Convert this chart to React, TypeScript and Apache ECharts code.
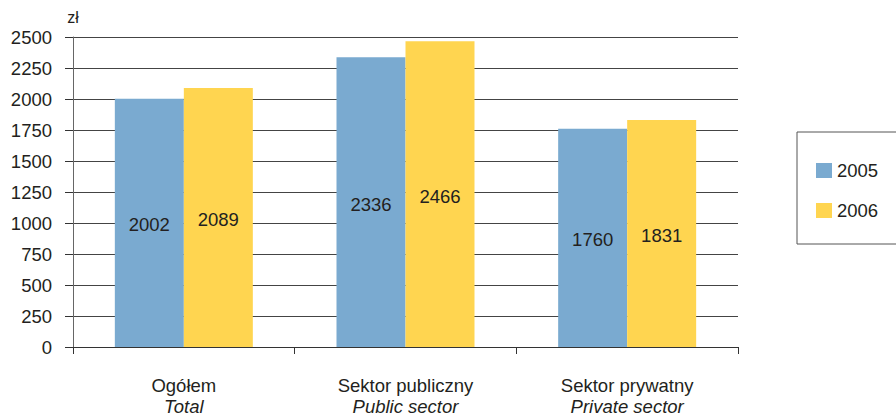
import React, { useEffect, useRef } from "react";
import * as echarts from "echarts";

const categories = ["Ogółem", "Sektor publiczny", "Sektor prywatny"];
const categoriesEn = ["Total", "Public sector", "Private sector"];
const series2005 = [2002, 2336, 1760];
const series2006 = [2089, 2466, 1831];
const seriesNames = ["2005", "2006"];
const yTicks = { min: 0, max: 2500, interval: 250 };

export default function App() {
  const ref = useRef<HTMLDivElement>(null);
  useEffect(() => {
    document.body.style.margin = "0";
    const chart = echarts.init(ref.current!, null, { renderer: "svg" });
    const font = "Liberation Sans, Arial, sans-serif";
    const fs = 18.5;
    const labelStyle = {
      show: true,
      position: "inside",
      offset: [0, 2],
      color: "#231f20",
      fontSize: fs,
      fontFamily: font,
    };
    chart.setOption({
      animation: false,
      textStyle: { fontFamily: font },
      grid: { left: 73, right: 158, top: 37, bottom: 65 },
      legend: {
        orient: "vertical",
        left: 811,
        top: 156,
        itemWidth: 16,
        itemHeight: 15,
        itemGap: 21,
        icon: "rect",
        textStyle: { fontSize: fs, color: "#231f20", fontFamily: font },
        data: seriesNames,
      },
      graphic: [
        {
          type: "rect",
          shape: { x: 797, y: 132, width: 120, height: 112 },
          style: { fill: "none", stroke: "#555", lineWidth: 1 },
          z: -1,
        },
      ],
      xAxis: {
        type: "category",
        data: categories.map((c, i) => c + "\n{en|" + categoriesEn[i] + "}"),
        axisLine: { lineStyle: { color: "#333", width: 1 } },
        axisTick: { show: true, length: 7, lineStyle: { color: "#333" } },
        axisLabel: {
          margin: 28,
          color: "#231f20",
          fontSize: fs,
          lineHeight: 21,
          fontFamily: font,
          rich: {
            en: { fontStyle: "italic", fontSize: fs, color: "#231f20", lineHeight: 21, fontFamily: font },
          },
        },
      },
      yAxis: {
        type: "value",
        min: yTicks.min,
        max: yTicks.max,
        interval: yTicks.interval,
        name: "zł",
        nameGap: 12,
        nameTextStyle: { color: "#231f20", fontSize: 16, fontFamily: font },
        axisLine: { show: true, lineStyle: { color: "#666", width: 1 } },
        axisTick: { show: true, length: 8, lineStyle: { color: "#333" } },
        axisLabel: {
          margin: 21,
          color: "#231f20",
          fontSize: fs,
          fontFamily: font,
          formatter: (v: number) => String(v),
        },
        splitLine: { lineStyle: { color: "#444", width: 1 } },
      },
      series: [
        {
          name: seriesNames[0],
          type: "bar",
          data: series2005,
          barWidth: 69,
          barGap: "0%",
          itemStyle: { color: "#7AAAD0" },
          label: labelStyle,
        },
        {
          name: seriesNames[1],
          type: "bar",
          data: series2006,
          barWidth: 69,
          barGap: "0%",
          itemStyle: { color: "#FFD550" },
          label: labelStyle,
        },
      ],
    });
    return () => chart.dispose();
  }, []);
  return <div ref={ref} style={{ width: 896, height: 417 }} />;
}
